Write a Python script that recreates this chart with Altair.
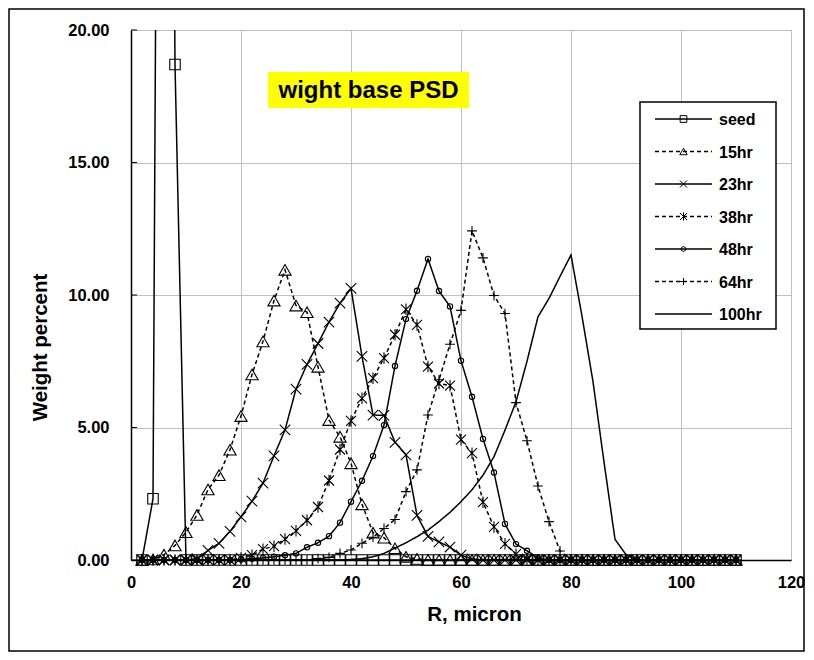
import altair as alt
import pandas as pd

# ---------------- data ----------------
R = list(range(2, 112, 2))  # R, micron
names = ["seed", "15hr", "23hr", "38hr", "48hr", "64hr", "100hr"]

seed_start = 2
seed_vals = [0, 2.31, 79.0, 18.7, 0]
h15_start = 2
h15_vals = [0, 0.02, 0.2, 0.55, 1.05, 1.7, 2.66, 3.2, 4.16, 5.43, 7.0, 8.25, 9.79, 10.95,
            9.6, 9.35, 7.29, 5.28, 4.65, 3.65, 2.1, 1.03, 0.84, 0.44, 0.12, 0.04]
h23_start = 12
h23_vals = [0.05, 0.36, 0.63, 1.08, 1.63, 2.22, 2.9, 3.93, 4.91, 6.45, 7.38, 8.17, 8.98,
            9.69, 10.25, 7.68, 5.47, 5.46, 4.44, 3.97, 1.68, 0.89, 0.68, 0.49, 0.18, 0.04]
h38_start = 20
h38_vals = [0.08, 0.18, 0.41, 0.52, 0.79, 1.1, 1.5, 2.0, 3.0, 4.17, 5.25, 6.1, 6.86, 7.62,
            8.5, 9.46, 8.87, 7.3, 6.66, 6.58, 4.54, 4.03, 2.18, 1.25, 0.61, 0.22, 0.05]
h48_start = 20
h48_vals = [0.02, 0.05, 0.08, 0.12, 0.18, 0.25, 0.48, 0.65, 0.9, 1.41, 2.2, 2.99, 3.92,
            5.09, 7.32, 9.09, 10.16, 11.36, 10.15, 9.57, 7.52, 6.16, 4.57, 3.3, 1.36,
            0.6, 0.35, 0.08]
h64_start = 34
h64_vals = [0.05, 0.1, 0.25, 0.38, 0.63, 0.86, 1.19, 1.53, 2.58, 3.4, 5.47, 6.8, 8.14,
            9.42, 12.42, 11.4, 9.98, 9.3, 5.94, 4.5, 2.79, 1.45, 0.34]
h100_start = 40
h100_vals = [0.02, 0.05, 0.12, 0.25, 0.45, 0.65, 0.88, 1.13, 1.45, 1.8, 2.2, 2.65, 3.2,
             3.9, 4.9, 5.97, 7.5, 9.18, 9.87, 10.7, 11.51, 9.2, 6.73, 3.7, 0.78, 0.2]

series_input = [
    (seed_start, seed_vals), (h15_start, h15_vals), (h23_start, h23_vals),
    (h38_start, h38_vals), (h48_start, h48_vals), (h64_start, h64_vals),
    (h100_start, h100_vals),
]

x_ticks = [0, 20, 40, 60, 80, 100, 120]
y_ticks = [0, 5, 10, 15, 20]


def full(start, vals):
    out = [0.0] * len(R)
    for i, v in enumerate(vals):
        out[(start - R[0]) // 2 + i] = v
    return out


frames = {}
for name, (start, vals) in zip(names, series_input):
    frames[name] = pd.DataFrame({"R": R, "value": full(start, vals), "series": name})

# ---------------- styles ----------------
FONT = "Liberation Sans"
X_PATH = "M-1,-1L1,1M-1,1L1,-1"
AST_PATH = "M-1,-1L1,1M-1,1L1,-1M0,-1.15L0,1.15"
PLUS_PATH = "M-1,0L1,0M0,-1L0,1"
style = {
    "seed": dict(dash=[1, 0], shape="square", size=110, lsize=45),
    "15hr": dict(dash=[4, 3], shape="triangle-up", size=150, lsize=55),
    "23hr": dict(dash=[1, 0], shape=X_PATH, size=110, lsize=50),
    "38hr": dict(dash=[4, 3], shape=AST_PATH, size=100, lsize=50),
    "48hr": dict(dash=[1, 0], shape="circle", size=28, lsize=22),
    "64hr": dict(dash=[4, 3], shape=PLUS_PATH, size=95, lsize=50),
    "100hr": dict(dash=[1, 0], shape=None, size=0, lsize=0),
}

W, H = 660, 530
xs = alt.Scale(domain=[0, 120], nice=False)
ys = alt.Scale(domain=[0, 20], nice=False)

x_enc = alt.X("R:Q", scale=xs, axis=alt.Axis(
    values=x_ticks, title="R, micron", format="d", ticks=False, labelPadding=14,
    labelFlush=False, titlePadding=14, titleX=343, grid=True))
y_enc = alt.Y("value:Q", scale=ys, axis=alt.Axis(
    values=y_ticks, title="Weight percent", format=".2f", ticks=False, labelPadding=22,
    labelFlush=False, titleX=-81, titleY=317, titleBaseline="bottom", titleAngle=270,
    grid=True))

one = pd.DataFrame({"a": [0]})
layers = []

# outer chart border
layers.append(alt.Chart(one).mark_rect(filled=False, stroke="black", strokeWidth=1.5).encode(
    x=alt.value(-122), x2=alt.value(673), y=alt.value(-21), y2=alt.value(621)))

# inside y ticks
layers.append(alt.Chart(pd.DataFrame({"t": y_ticks})).mark_rule(color="black", strokeWidth=1).encode(
    x=alt.value(0), x2=alt.value(6), y=alt.Y("t:Q", scale=ys)))

for name in names:
    st = style[name]
    d = frames[name]
    layers.append(alt.Chart(d).mark_line(clip=True, color="black", strokeWidth=1.5,
                                         strokeDash=st["dash"]).encode(x=x_enc, y=y_enc))
for name in names:
    st = style[name]
    if st["shape"] is None:
        continue
    d = frames[name]
    layers.append(alt.Chart(d).transform_filter("datum.value <= 20").mark_point(
        shape=st["shape"], size=st["size"], filled=False, color="black", strokeWidth=1.1,
        opacity=1).encode(x=x_enc, y=y_enc))

# title box
layers.append(alt.Chart(one).mark_rect(color="#ffff00").encode(
    x=alt.value(137), x2=alt.value(338), y=alt.value(42), y2=alt.value(78)))
layers.append(alt.Chart(one).mark_text(text="wight base PSD", font=FONT, fontWeight="bold",
                                       fontSize=24, color="black", baseline="middle",
                                       align="center").encode(
    x=alt.value(237.5), y=alt.value(61)))

# legend
layers.append(alt.Chart(one).mark_rect(fill="white", stroke="black", strokeWidth=1.5).encode(
    x=alt.value(509), x2=alt.value(645), y=alt.value(72), y2=alt.value(299)))
for i, name in enumerate(names):
    st = style[name]
    ly = 89 + 32.5 * i
    layers.append(alt.Chart(one).mark_rule(color="black", strokeWidth=1.5,
                                           strokeDash=st["dash"]).encode(
        x=alt.value(524), x2=alt.value(581), y=alt.value(ly)))
    if st["shape"] is not None:
        layers.append(alt.Chart(one).mark_point(shape=st["shape"], size=st["lsize"],
                                                filled=False, color="black", strokeWidth=1,
                                                opacity=1).encode(
            x=alt.value(552.5), y=alt.value(ly)))
    layers.append(alt.Chart(one).mark_text(text=name, font=FONT, fontWeight="bold", fontSize=16,
                                           align="left", baseline="middle", color="black").encode(
        x=alt.value(588), y=alt.value(ly + 1)))

chart = alt.layer(*layers).properties(
    width=W, height=H,
    autosize=alt.AutoSizeParams(type="none"),
    padding={"left": 123, "top": 22, "right": 15, "bottom": 92},
    background="white",
).configure_view(stroke="#808080", strokeWidth=1).configure_axis(
    labelFont=FONT, labelFontWeight="bold", labelFontSize=16.5, labelColor="black",
    titleFont=FONT, titleFontWeight="bold", titleFontSize=20.5, titleColor="black",
    domainColor="black", domainWidth=1.5, gridColor="#c0c0c0", gridWidth=1,
)

chart.save("out.html", embed_options={"renderer": "svg", "actions": False})
